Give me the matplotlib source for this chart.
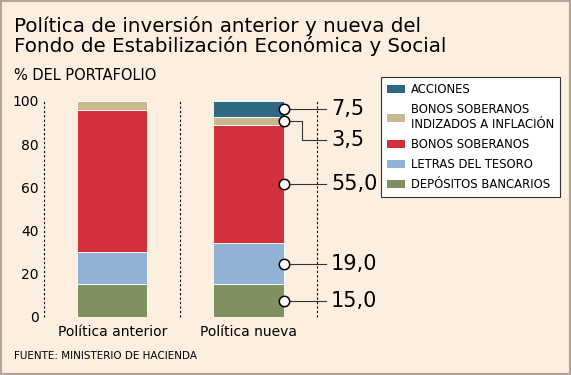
import matplotlib.pyplot as plt
from matplotlib.patches import Patch

# datos
politicas = ['Política anterior', 'Política nueva']
series = ['DEPÓSITOS BANCARIOS', 'LETRAS DEL TESORO', 'BONOS SOBERANOS',
          'BONOS SOBERANOS\nINDIZADOS A INFLACIÓN', 'ACCIONES']
depositos = [15.0, 15.0]
letras = [15.0, 19.0]
bonos = [66.0, 55.0]
indizados = [4.0, 3.5]
acciones = [0.0, 7.5]
etiquetas = ['15,0', '19,0', '55,0', '3,5', '7,5']
yticks = [0, 20, 40, 60, 80, 100]

colores = ['#7f9061', '#90b3d5', '#d2313c', '#c8b88e', '#2f6a84']
fondo = '#fcefdf'

fig = plt.figure(figsize=(5.71, 3.75), dpi=100, facecolor=fondo)
ax = fig.add_axes([0.0771, 0.1555, 0.4776, 0.5752])
ax.set_facecolor(fondo)

valores = [depositos, letras, bonos, indizados, acciones]
x = [0, 1]
ancho = 0.515
base = [0.0, 0.0]
for vals, col in zip(valores, colores):
    ax.bar(x, vals, ancho, bottom=base, color=col, edgecolor='white', linewidth=0.6)
    base = [b + v for b, v in zip(base, vals)]

# etiquetas de la politica nueva
xr = 1 + ancho / 2
xt = 1.57
bottoms = [0.0]
for v in [depositos[1], letras[1], bonos[1], indizados[1]]:
    bottoms.append(bottoms[-1] + v)
nuevos = [depositos[1], letras[1], bonos[1], indizados[1], acciones[1]]
for i, (b, v, lab) in enumerate(zip(bottoms, nuevos, etiquetas)):
    ym = b + v / 2
    if i == 3:
        ytxt = ym - 9
        ax.plot([xr, 1.39, 1.39, xt], [ym, ym, ytxt, ytxt], color='#333333', lw=0.8, clip_on=False)
    else:
        ytxt = ym
        ax.plot([xr, xt], [ym, ym], color='#333333', lw=0.8, clip_on=False)
    ax.plot(xr, ym, 'o', ms=7.5, mfc='white', mec='black', mew=1.1, clip_on=False, zorder=5)
    ax.text(xt + 0.035, ytxt, lab, fontsize=15, va='center', ha='left')

for xv in [-0.5, 0.5, 1.5]:
    ax.plot([xv, xv], [0, 100], ls=(0, (2, 2)), color='black', lw=0.8, clip_on=False)

ax.set_xlim(-0.5, 1.5)
ax.set_ylim(0, 100)
ax.set_yticks(yticks)
ax.set_yticklabels([str(t) for t in yticks], fontsize=10)
ax.set_xticks(x)
ax.set_xticklabels(politicas, fontsize=10)
ax.tick_params(axis='y', length=0, pad=4)
ax.tick_params(axis='x', length=0, pad=6)
for s in ax.spines.values():
    s.set_visible(False)

fig.text(0.025, 0.958, 'Política de inversión anterior y nueva del\nFondo de Estabilización Económica y Social',
         fontsize=14.3, va='top', ha='left', linespacing=1.0)
fig.text(0.025, 0.80, '% DEL PORTAFOLIO', fontsize=10.5, va='center', ha='left')
fig.text(0.025, 0.05, 'FUENTE: MINISTERIO DE HACIENDA', fontsize=7.5, va='center', ha='left')

handles = [Patch(facecolor=c, label=l) for c, l in zip(colores[::-1], series[::-1])]
leg = fig.legend(handles=handles, loc='upper left', bbox_to_anchor=(381 / 571, 1 - 77 / 375),
                 fontsize=8.4, frameon=True, fancybox=False, handlelength=1.55, handleheight=0.7,
                 handletextpad=0.55, labelspacing=0.6, borderpad=0.5, borderaxespad=0,
                 framealpha=1, facecolor='white')
leg.get_frame().set_edgecolor('#333333')
leg.get_frame().set_linewidth(0.8)

fig.patches.append(plt.Rectangle((0, 0), 1, 1, transform=fig.transFigure, fill=False,
                                 edgecolor='#b5a598', lw=3))

fig.savefig('out.png', dpi=100, facecolor=fondo)
